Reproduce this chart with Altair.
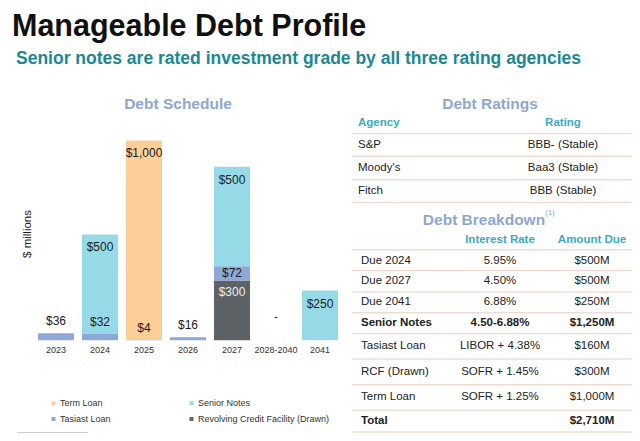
import altair as alt
import pandas as pd

FONT = "Liberation Sans"

# ---------------- data ----------------
years = ["2023", "2024", "2025", "2026", "2027", "2028-2040", "2041"]
term_loan = [0, 0, 1000, 0, 0, 0, 0]
senior_notes = [0, 500, 0, 0, 500, 0, 250]
tasiast_loan = [36, 32, 4, 16, 72, 0, 0]
rcf_drawn = [0, 0, 0, 0, 300, 0, 0]
empty_year_label = "-"

series_names = ["Term Loan", "Tasiast Loan", "Senior Notes",
                "Revolving Credit Facility (Drawn)"]

agencies = ["S&P", "Moody's", "Fitch"]
ratings = ["BBB- (Stable)", "Baa3 (Stable)", "BBB (Stable)"]

breakdown_items = ["Due 2024", "Due 2027", "Due 2041", "Senior Notes",
                   "Tasiast Loan", "RCF (Drawn)", "Term Loan", "Total"]
interest_rates = ["5.95%", "4.50%", "6.88%", "4.50-6.88%",
                  "LIBOR + 4.38%", "SOFR + 1.45%", "SOFR + 1.25%", ""]
amounts_due = ["$500M", "$500M", "$250M", "$1,250M",
               "$160M", "$300M", "$1,000M", "$2,710M"]
bold_items = ["Senior Notes", "Total"]

# ---------------- styling / layout ----------------
colors = ["#fccf99", "#8ea8d7", "#95dae6", "#5c6266"]
stack_order = {"Revolving Credit Facility (Drawn)": 0, "Tasiast Loan": 1,
               "Term Loan": 2, "Senior Notes": 3}

def X(x):
    return x - 8

def Y(y):
    return (y - 35) * 0.985 + 27

TITLE_BLUE = "#8fa7d0"
TEAL = "#1d8893"
HEAD_TEAL = "#3aaac5"
BODY = "#222222"
LINE = "#f1dcd2"

# ---------------- bar data ----------------
series_values = {
    "Term Loan": term_loan,
    "Senior Notes": senior_notes,
    "Tasiast Loan": tasiast_loan,
    "Revolving Credit Facility (Drawn)": rcf_drawn,
}
rows = []
for i, yr in enumerate(years):
    base = 0
    for s in sorted(series_names, key=lambda n: stack_order[n]):
        v = series_values[s][i]
        if v > 0:
            rows.append(dict(year=yr, series=s, value=v, ord=stack_order[s],
                             top=base + v, mid=base + v / 2,
                             label="${:,}".format(v)))
            base += v
bars_df = pd.DataFrame(rows)

xscale = alt.Scale(domain=years, range=[X(34), X(342)],
                   paddingInner=0.18, paddingOuter=0.09)
yscale = alt.Scale(domain=[0, 1000], range=[Y(345), Y(345) - 0.2022 * 0.985 * 1000],
                   nice=False, zero=True)

xenc = alt.X("year:N", scale=xscale, axis=None, sort=years)

bars = alt.Chart(bars_df).mark_bar().encode(
    x=xenc,
    y=alt.Y("value:Q", stack="zero", scale=yscale, axis=None),
    color=alt.Color("series:N", scale=alt.Scale(domain=series_names, range=colors),
                    legend=alt.Legend(orient="none", legendX=X(49), legendY=Y(404),
                                      columns=2, columnPadding=76, rowPadding=6,
                                      symbolType="square", symbolSize=16,
                                      symbolStrokeWidth=0, labelOffset=2,
                                      labelFontSize=9, labelColor="#333333",
                                      labelFont=FONT, title=None, padding=0)),
    order=alt.Order("ord:Q", sort="ascending"),
)

inside = alt.Chart(bars_df).transform_filter(
    "datum.series == 'Term Loan' || datum.series == 'Senior Notes'"
).mark_text(fontSize=12, font=FONT, color="#1a1a1a", baseline="middle", dy=13).encode(
    x=xenc, y=alt.Y("top:Q", scale=yscale, axis=None), text="label:N")

rcf_lab = alt.Chart(bars_df).transform_filter(
    "datum.series == 'Revolving Credit Facility (Drawn)'"
).mark_text(fontSize=12, font=FONT, color="#eeeeee", baseline="middle", dy=11).encode(
    x=xenc, y=alt.Y("top:Q", scale=yscale, axis=None), text="label:N")

tas_mid = alt.Chart(bars_df).transform_filter(
    "datum.series == 'Tasiast Loan' && datum.year == '2027'"
).mark_text(fontSize=12, font=FONT, color="#1a1a1a", baseline="middle").encode(
    x=xenc, y=alt.Y("mid:Q", scale=yscale, axis=None), text="label:N")

tas_above = alt.Chart(bars_df).transform_filter(
    "datum.series == 'Tasiast Loan' && datum.year != '2027'"
).mark_text(fontSize=12, font=FONT, color="#1a1a1a", baseline="middle", dy=-12).encode(
    x=xenc, y=alt.Y("top:Q", scale=yscale, axis=None), text="label:N")

year_df = pd.DataFrame({"year": years})
year_labels = alt.Chart(year_df).mark_text(
    fontSize=9, font=FONT, color="#333333", baseline="middle").encode(
    x=xenc, y=alt.value(Y(355)), text="year:N")

dash_df = pd.DataFrame({"year": ["2028-2040"], "label": [empty_year_label]})
dash = alt.Chart(dash_df).mark_text(
    fontSize=12, font=FONT, color="#333333", baseline="middle").encode(
    x=xenc, y=alt.value(Y(321)), text="label:N")

inner = alt.layer(bars, inside, rcf_lab, tas_mid, tas_above, year_labels, dash)

# ---------------- slide texts ----------------
def tlayer(items, size, weight="normal", color=BODY, align="left",
           baseline="middle", angle=0):
    df = pd.DataFrame(items, columns=["text", "x", "y"])
    df["x"] = df["x"].map(X)
    df["y"] = df["y"].map(Y)
    return alt.Chart(df).mark_text(
        fontSize=size, fontWeight=weight, color=color, align=align,
        baseline=baseline, angle=angle, font=FONT).encode(
        x=alt.X("x:Q", scale=None, axis=None),
        y=alt.Y("y:Q", scale=None, axis=None),
        text="text:N")

layers = []
layers.append(tlayer([("Manageable Debt Profile", 12, 36)], 30.5, "bold", "#111111",
                     baseline="alphabetic"))
layers.append(tlayer([("Senior notes are rated investment grade by all three rating agencies", 16, 64)],
                     17.5, "bold", TEAL, baseline="alphabetic"))
layers.append(tlayer([("Debt Schedule", 178, 105), ("Debt Ratings", 490, 105),
                      ("Debt Breakdown", 484, 223)], 15.5, "bold", TITLE_BLUE, "center"))
layers.append(tlayer([("(1)", 545, 216)], 8, "normal", TITLE_BLUE, "left"))
layers.append(tlayer([("$ millions", 28, 237)], 11.5, "normal", BODY, "center", angle=270))

# headers
layers.append(tlayer([("Agency", 358, 124)], 11.5, "bold", HEAD_TEAL, "left"))
layers.append(tlayer([("Rating", 563, 124), ("Interest Rate", 500, 243),
                      ("Amount Due", 592, 243)], 11.5, "bold", HEAD_TEAL, "center"))

# ratings table
rating_y = [147, 170, 193]
layers.append(tlayer([(a, 358, y) for a, y in zip(agencies, rating_y)], 11.5))
layers.append(tlayer([(r, 563, y) for r, y in zip(ratings, rating_y)], 11.5, align="center"))

# breakdown table
bd_y = [264, 285, 306, 327, 351, 377, 403, 427]
norm_l, norm_c, bold_l, bold_c = [], [], [], []
for item, rate, amt, y in zip(breakdown_items, interest_rates, amounts_due, bd_y):
    if item in bold_items:
        bold_l.append((item, 361, y))
        bold_c += [(rate, 500, y), (amt, 592, y)]
    else:
        norm_l.append((item, 361, y))
        norm_c += [(rate, 500, y), (amt, 592, y)]
layers.append(tlayer(norm_l, 11.5))
layers.append(tlayer(norm_c, 11.5, align="center"))
layers.append(tlayer(bold_l, 11.5, "bold"))
layers.append(tlayer(bold_c, 11.5, "bold", align="center"))

# table lines
line_y = [135, 158, 182, 205, 253, 274, 296, 317, 338, 364, 390, 416, 438]
lines_df = pd.DataFrame({"x1": [X(352)] * len(line_y), "x2": [X(632)] * len(line_y),
                         "y": [Y(v) for v in line_y]})
layers.append(alt.Chart(lines_df).mark_rule(color=LINE, strokeWidth=1.5).encode(
    x=alt.X("x1:Q", scale=None, axis=None), x2="x2:Q",
    y=alt.Y("y:Q", scale=None, axis=None)))

foot_df = pd.DataFrame({"x1": [X(17)], "x2": [X(88)], "y": [Y(439)]})
layers.append(alt.Chart(foot_df).mark_rule(color="#aaaaaa", strokeWidth=1).encode(
    x=alt.X("x1:Q", scale=None, axis=None), x2="x2:Q",
    y=alt.Y("y:Q", scale=None, axis=None)))

chart = alt.layer(inner, *layers).resolve_scale(
    x="independent", y="independent"
).properties(
    width=624, height=425, padding=0,
    autosize=alt.AutoSizeParams(type="none"),
    background="white",
).configure_view(stroke=None)

chart.save("out.html", embed_options={"renderer": "svg", "actions": False})
